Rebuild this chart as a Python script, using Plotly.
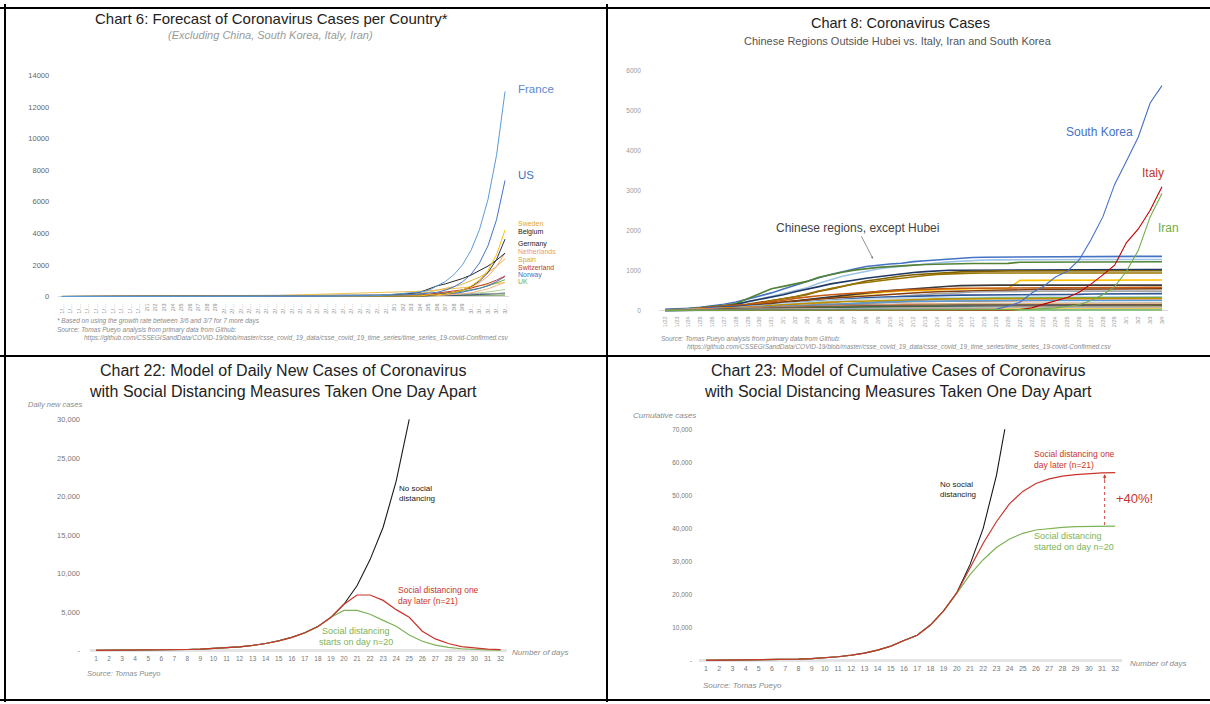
import plotly.graph_objects as go

W, H = 1210, 704
FONT = "Liberation Sans, Arial, sans-serif"


def px(x):
    return x / W


def py(y):
    return 1 - y / H


# ---------------- Chart 6 data (1/22 .. 3/14, forecast after 3/7) ----------------
DATES6 = ["1/22", "1/23", "1/24", "1/25", "1/26", "1/27", "1/28", "1/29", "1/30", "1/31",
          "2/1", "2/2", "2/3", "2/4", "2/5", "2/6", "2/7", "2/8", "2/9", "2/10",
          "2/11", "2/12", "2/13", "2/14", "2/15", "2/16", "2/17", "2/18", "2/19", "2/20",
          "2/21", "2/22", "2/23", "2/24", "2/25", "2/26", "2/27", "2/28", "2/29",
          "3/1", "3/2", "3/3", "3/4", "3/5", "3/6", "3/7", "3/8", "3/9", "3/10",
          "3/11", "3/12", "3/13", "3/14"]
DATES6_TEXT = (["1/…"] * 10 + ["2/1", "2/2", "2/3", "2/4", "2/5", "2/6", "2/7", "2/8", "2/9"]
               + ["2/…"] * 20 + ["3/1", "3/2", "3/3", "3/4", "3/5", "3/6", "3/7", "3/8", "3/9"]
               + ["3/…"] * 5)
Y6_TICKS = [0, 2000, 4000, 6000, 8000, 10000, 12000, 14000]
Y6_TEXT = ["0", "2000", "4000", "6000", "8000", "10000", "12000", "14000"]

FRANCE = ([0, 0, 2, 3, 3, 3, 4, 5, 5, 5]
          + [6, 6, 6, 6, 6, 6, 6, 11, 11, 11, 11, 11, 11, 11, 12, 12, 12, 12, 12, 12,
             12, 12, 12, 12, 14, 18, 38, 57, 100]
          + [130, 191, 204, 285, 377, 653, 949, 1379, 2004, 2912, 4231, 6148, 8933, 12980])
US = ([1, 1, 2, 2, 5, 5, 5, 5, 5, 6]
      + [8, 8, 11, 11, 11, 12, 12, 12, 12, 12, 13, 13, 13, 13, 13, 13, 13, 13, 13, 13,
         15, 15, 15, 51, 51, 57, 58, 60, 68]
      + [74, 98, 118, 149, 217, 262, 402, 610, 925, 1400, 2120, 3210, 4860, 7350])
GERMANY = ([0, 0, 0, 0, 0, 0, 4, 4, 4, 5]
           + [8, 10, 12, 12, 12, 12, 13, 13, 14, 14, 16, 16, 16, 16, 16, 16, 16, 16, 16, 16,
              16, 16, 16, 16, 17, 27, 46, 48, 79]
           + [130, 159, 196, 262, 482, 670, 799, 953, 1136, 1355, 1616, 1927, 2298, 2740])
SPAIN = ([0] * 10
         + [1] * 8 + [2] * 16 + [6, 13, 15, 32, 45]
         + [84, 120, 165, 222, 259, 400, 500, 625, 781, 977, 1221, 1526, 1907, 2384])
SWEDEN = ([0] * 9 + [1]
          + [1] * 25 + [2, 7, 7, 12]
          + [14, 15, 21, 35, 94, 101, 161, 257, 409, 652, 1039, 1657, 2641, 4210])
BELGIUM = ([0] * 10
           + [0, 0, 0] + [1] * 26
           + [2, 8, 13, 23, 50, 109, 169, 262, 406, 629, 975, 1512, 2343, 3632])
NETHERLANDS = ([0] * 10
               + [0] * 26 + [1, 1, 6]
               + [10, 18, 24, 38, 82, 128, 188, 276, 406, 596, 875, 1286, 1889, 2775])
SWITZERLAND = ([0] * 10
               + [0] * 24 + [1, 1, 8, 8, 18]
               + [27, 42, 56, 90, 114, 214, 268, 336, 420, 526, 659, 825, 1033, 1293])
NORWAY = ([0] * 10
          + [0] * 25 + [1, 1, 6, 15]
          + [19, 25, 32, 56, 87, 108, 147, 200, 272, 371, 505, 687, 935, 1273])
UK = ([0] * 9 + [2]
      + [2] * 6 + [3, 3, 3, 8, 8, 9] + [9] * 12 + [13, 13, 15, 20, 23]
      + [36, 40, 51, 85, 115, 163, 206, 260, 329, 416, 526, 665, 840, 1062])
JAPAN = ([2, 1, 2, 2, 4, 4, 7, 7, 11, 15]
         + [20, 20, 20, 22, 22, 25, 25, 25, 26, 26, 26, 28, 28, 29, 43, 59, 66, 74, 84, 94,
            105, 122, 147, 159, 170, 189, 214, 228, 241]
         + [256, 274, 293, 331, 360, 420, 461, 506, 555, 610, 669, 735, 807, 886])
SINGAPORE = ([0, 1, 3, 3, 4, 5, 7, 7, 10, 13]
             + [16, 18, 18, 24, 28, 28, 30, 33, 40, 45, 47, 50, 58, 67, 72, 75, 77, 81, 84, 84,
                85, 85, 89, 89, 91, 93, 93, 93, 102]
             + [106, 108, 110, 110, 117, 130, 138, 146, 155, 165, 175, 186, 197, 209])
AUSTRIA = ([0] * 10
           + [0] * 24 + [2, 2, 3, 3, 9]
           + [14, 18, 21, 29, 41, 55, 79, 113, 163, 234, 336, 482, 692, 900])
CANADA = ([0, 0, 0, 0, 1, 1, 2, 2, 2, 4]
          + [4, 4, 4, 4, 5, 5, 7, 7, 7, 7, 7, 7, 7, 7, 7, 7, 8, 8, 8, 8,
             8, 9, 9, 10, 11, 11, 13, 14, 20]
          + [24, 27, 33, 37, 49, 54, 64, 76, 90, 106, 126, 149, 176, 209])
AUSTRALIA = ([0, 0, 0, 0, 4, 5, 5, 6, 9, 9]
             + [12, 12, 12, 13, 13, 14, 15, 15, 15, 15, 15, 15, 15, 15, 15, 15, 15, 15, 15, 15,
                15, 15, 22, 22, 22, 23, 23, 25, 26]
             + [27, 30, 39, 52, 55, 60, 63, 66, 70, 74, 78, 82, 86, 91])
GREECE = ([0] * 10
          + [0] * 25 + [1, 3, 4, 4]
          + [7, 7, 7, 9, 31, 45, 66, 96, 135, 180, 230, 290, 360, 440])

# ---------------- Chart 8 data (1/22 .. 3/4) ----------------
DATES8 = DATES6[:43]
Y8_TICKS = [0, 1000, 2000, 3000, 4000, 5000, 6000]
Y8_TEXT = ["0", "1000", "2000", "3000", "4000", "5000", "6000"]

GUANGDONG = ([26, 32, 53, 78, 111, 151, 207, 277, 354, 436]
             + [535, 632, 725, 813, 895, 970, 1034, 1095, 1131, 1159, 1177, 1219, 1241, 1261, 1294,
                1316, 1322, 1328, 1331, 1332, 1333, 1339, 1342, 1345, 1347, 1347, 1347, 1348, 1349]
             + [1349, 1350, 1350, 1350])
HENAN = ([5, 5, 9, 32, 83, 128, 168, 206, 278, 352]
         + [422, 493, 566, 675, 764, 851, 914, 981, 1033, 1073, 1105, 1135, 1169, 1184, 1212,
            1231, 1246, 1257, 1262, 1265, 1267, 1270, 1271, 1271, 1271, 1271, 1272, 1272, 1272]
         + [1272, 1272, 1272, 1272])
ZHEJIANG = ([10, 27, 43, 62, 104, 128, 173, 296, 428, 538]
            + [599, 661, 724, 829, 895, 954, 1006, 1048, 1075, 1092, 1117, 1131, 1145, 1155, 1162,
               1167, 1171, 1172, 1174, 1175, 1203, 1205, 1205, 1205, 1205, 1205, 1205, 1205, 1205]
            + [1206, 1213, 1213, 1215])
HUNAN = ([4, 9, 24, 43, 69, 100, 143, 221, 277, 332]
         + [389, 463, 521, 593, 661, 711, 772, 803, 838, 879, 912, 946, 968, 988, 1001,
            1004, 1006, 1007, 1008, 1010, 1011, 1013, 1016, 1016, 1016, 1016, 1017, 1017, 1018]
         + [1018, 1018, 1018, 1018])
ANHUI = ([1, 9, 15, 39, 60, 70, 106, 152, 200, 237]
         + [297, 340, 408, 480, 530, 591, 665, 733, 779, 830, 860, 889, 910, 934, 950,
            962, 973, 982, 986, 987, 988, 989, 989, 989, 989, 989, 989, 990, 990]
         + [990, 990, 990, 990])
JIANGXI = ([2, 7, 18, 18, 36, 72, 109, 109, 162, 240]
           + [286, 333, 391, 476, 548, 600, 661, 698, 740, 771, 804, 844, 872, 900, 913,
              925, 930, 933, 934, 934, 934, 934, 934, 934, 934, 934, 934, 935, 935]
           + [935, 935, 935, 935])
SHANDONG = ([2, 6, 15, 27, 46, 75, 95, 130, 158, 184]
            + [206, 230, 259, 275, 307, 347, 386, 416, 444, 466, 487, 497, 509, 523, 532,
               537, 541, 543, 544, 546, 749, 750, 754, 755, 756, 756, 756, 756, 756]
            + [758, 758, 758, 758])
JIANGSU = ([1, 5, 9, 18, 33, 47, 70, 99, 129, 168]
           + [202, 236, 271, 308, 341, 373, 408, 439, 468, 492, 515, 543, 570, 593, 604,
              617, 626, 629, 631, 631] + [631] * 9
           + [631, 631, 631, 631])
CHONGQING = ([6, 9, 27, 57, 75, 110, 132, 147, 182, 211]
             + [247, 300, 337, 366, 389, 411, 426, 446, 468, 486, 505, 518, 529, 537, 544,
                551, 553, 555, 560, 567, 572, 573, 575, 576, 576, 576, 576, 576, 576]
             + [576, 576, 576, 576])
SICHUAN = ([5, 8, 15, 28, 44, 69, 90, 108, 142, 177]
           + [207, 231, 254, 282, 301, 321, 344, 364, 386, 405, 417, 436, 451, 463, 470,
              481, 495, 508, 514, 520, 525, 526, 526, 527, 529, 531, 534, 538, 538]
           + [538, 538, 538, 539])
HEILONGJIANG = ([0, 2, 4, 9, 15, 21, 33, 38, 44, 59]
                + [80, 95, 121, 155, 190, 227, 277, 295, 307, 331, 360, 378, 395, 419, 425,
                   445, 457, 464, 470, 476, 479, 479, 480, 480, 480, 480, 480, 480, 480]
                + [480, 480, 480, 481])
BEIJING = ([14, 22, 36, 41, 68, 80, 91, 111, 114, 139]
           + [168, 191, 212, 228, 253, 274, 297, 315, 326, 337, 342, 352, 366, 372, 375,
              380, 381, 387, 393, 395, 396, 399, 399, 399, 400, 400, 410, 410, 411]
           + [413, 414, 414, 418])
SHANGHAI = ([9, 16, 20, 33, 40, 53, 66, 96, 112, 135]
            + [169, 182, 203, 219, 243, 257, 277, 286, 293, 299, 303, 311, 315, 318, 326,
               328, 331, 333, 333, 333, 334, 334, 335, 335, 335, 336, 337, 337, 337]
            + [337, 337, 338, 338])
HEBEI = ([1, 1, 2, 8, 13, 18, 33, 48, 65, 82]
         + [96, 104, 113, 126, 135, 157, 172, 195, 206, 218, 239, 251, 265, 283, 291,
            300, 301, 302, 306, 307, 308, 309, 311, 311, 311, 312, 317, 318, 318]
         + [318, 318, 318, 318])
FUJIAN = ([1, 5, 10, 18, 35, 59, 80, 84, 101, 120]
          + [144, 159, 179, 194, 205, 215, 224, 239, 250, 261, 267, 272, 279, 281, 285,
             287, 290, 292, 293, 293, 293, 293, 293, 293, 294, 294, 296, 296, 296]
          + [296, 296, 296, 296])
GUANGXI = ([2, 5, 23, 23, 36, 46, 51, 58, 78, 87]
           + [100, 111, 127, 139, 150, 168, 172, 183, 195, 210, 215, 222, 222, 226, 235,
              237, 238, 242, 244, 245, 246, 249, 249, 251, 252, 252, 252, 252, 252]
           + [252, 252, 252, 252])
SHAANXI = ([0, 3, 5, 15, 22, 35, 46, 56, 63, 87]
           + [101, 116, 128, 142, 165, 173, 184, 195, 208, 213, 219, 225, 229, 230, 232,
              236, 240, 240, 242, 245] + [245] * 9
           + [245, 245, 245, 245])
YUNNAN = ([1, 2, 5, 11, 16, 26, 44, 55, 70, 83]
          + [93, 105, 117, 122, 128, 133, 138, 140, 141, 149, 154, 155, 162, 168, 169,
             171, 172, 172, 172, 174] + [174] * 9
          + [174, 174, 174, 174])
HAINAN = ([4, 5, 8, 19, 22, 33, 40, 43, 46, 52]
          + [62, 64, 72, 80, 99, 106, 117, 124, 131, 138, 144, 157, 157, 159, 162,
             162, 163, 163, 168, 168] + [168] * 9
          + [168, 168, 168, 168])
GUIZHOU = ([1, 3, 3, 4, 5, 7, 9, 9, 12, 29]
           + [29, 38, 46, 58, 64, 71, 81, 89, 99, 109, 127, 133, 135, 140, 143,
              144, 146, 146, 146, 146] + [146] * 9
           + [146, 146, 146, 146])
TIANJIN = ([4, 4, 8, 10, 14, 23, 24, 27, 31, 32]
           + [41, 48, 60, 67, 69, 78, 81, 88, 91, 95, 106, 112, 119, 120, 122,
              124, 125, 128, 130, 131, 133, 135, 135, 135, 135, 135, 136, 136, 136]
           + [136, 136, 136, 136])
SHANXI = ([1, 1, 1, 9, 13, 27, 33, 35, 47, 56]
          + [66, 74, 81, 90, 96, 104, 115, 119, 122, 124, 126, 126, 127, 128, 129,
             130, 131, 131, 132, 132, 132, 132, 132, 132, 133, 133, 133, 133, 133]
          + [133, 133, 133, 133])
LIAONING = ([2, 3, 4, 17, 21, 27, 34, 39, 41, 48]
            + [64, 70, 74, 81, 89, 94, 99, 105, 107, 108, 111, 116, 117, 119, 119] + [121] * 14
            + [122, 122, 125, 125])
HONGKONG = ([0, 2, 2, 5, 8, 8, 8, 10, 10, 13]
            + [14, 15, 15, 18, 21, 24, 26, 26, 36, 42, 49, 50, 53, 56, 56,
               57, 60, 62, 63, 68, 68, 70, 74, 81, 85, 91, 93, 94, 95]
            + [96, 100, 100, 105])
JILIN = ([0, 1, 3, 4, 4, 6, 8, 9, 14, 14]
         + [17, 23, 31, 42, 54, 59, 65, 69, 78, 80, 81, 83, 84, 86, 88,
            89, 89, 89, 90, 91, 91, 91, 91, 93, 93, 93, 93, 93, 93]
         + [93, 93, 93, 93])
GANSU = ([0, 2, 2, 4, 7, 14, 19, 24, 26, 29]
         + [40, 51, 55, 57, 62, 62, 67, 79, 83, 83, 86, 87, 90, 90, 90, 90] + [91] * 13
         + [91, 91, 91, 102])
XINJIANG = ([0, 2, 2, 3, 4, 5, 10, 13, 14, 17]
            + [18, 21, 24, 29, 32, 36, 39, 42, 45, 49, 55, 59, 63, 65, 70,
               71, 73, 76, 76, 76] + [76] * 9
            + [76, 76, 76, 76])
INNER_MONGOLIA = ([0, 0, 1, 7, 7, 11, 15, 16, 19, 20]
                  + [23, 27, 34, 35, 42, 46, 50, 52, 54, 58, 58, 60, 61, 65, 68,
                     70, 72, 73, 75, 75] + [75] * 9
                  + [75, 75, 75, 75])
NINGXIA = ([1, 1, 2, 3, 4, 7, 11, 12, 17, 21]
           + [26, 28, 31, 34, 34, 40, 43, 45, 45, 49, 53, 58, 64, 67, 70,
              70, 70, 70, 71, 71, 71, 71, 71, 71, 71, 71, 72, 73, 73]
           + [74, 74, 75, 75])
TAIWAN = ([1, 1, 3, 3, 4, 5, 8, 8, 9, 10]
          + [10, 10, 10, 11, 11, 16, 16, 17, 18, 18, 18, 18, 18, 18, 18,
             20, 22, 22, 23, 24, 26, 26, 28, 30, 31, 32, 32, 34, 39]
          + [40, 41, 42, 42])
QINGHAI = ([0, 0, 0, 1, 1, 6, 6, 6, 8, 9]
           + [11, 13, 15, 17, 18] + [18] * 24
           + [18, 18, 18, 18])
MACAU = ([1, 2, 2, 2, 5, 6, 7, 7, 7, 7]
         + [7, 8, 8, 10] + [10] * 25
         + [10, 10, 10, 10])

SOUTH_KOREA = ([1, 1, 2, 2, 3, 4, 4, 4, 4, 11]
               + [12, 15, 15, 16, 19, 23, 24, 24, 25, 27, 28, 28, 28, 28, 28,
                  29, 30, 31, 31, 104, 204, 433, 602, 833, 977, 1261, 1766, 2337, 3150]
               + [3736, 4335, 5186, 5621])
ITALY = ([0] * 9 + [2]
         + [2] * 6 + [3] * 14 + [20, 62, 155, 229, 322, 453, 655, 888, 1128]
         + [1694, 2036, 2502, 3089])
IRAN = ([0] * 10
        + [0] * 18 + [2, 5, 18, 28, 43, 61, 95, 139, 245, 388, 593]
        + [978, 1501, 2336, 2922])

# ---------------- Chart 22 / 23 data (days 1..32) ----------------
DAYS = list(range(1, 33))
DAYS_TEXT = [str(d) for d in DAYS]
Y22_TICKS = [0, 5000, 10000, 15000, 20000, 25000, 30000]
Y22_TEXT = ["-", "5,000", "10,000", "15,000", "20,000", "25,000", "30,000"]
Y23_TICKS = [0, 10000, 20000, 30000, 40000, 50000, 60000, 70000]
Y23_TEXT = ["-", "10,000", "20,000", "30,000", "40,000", "50,000", "60,000", "70,000"]

DAILY_NO_SD = [10, 15, 20, 30, 45, 60, 85, 120, 170, 240, 330, 460, 650, 900, 1250, 1700,
               2300, 3100, 4300, 6000, 8400, 11800, 16000, 22000, 30000]
DAILY_SD21 = [10, 15, 20, 30, 45, 60, 85, 120, 170, 240, 330, 460, 650, 900, 1250, 1700,
              2300, 3100, 4300, 6000, 7200, 7200, 6500, 5300, 4300, 2500, 1500, 900, 500,
              300, 180, 100]
DAILY_SD20 = [10, 15, 20, 30, 45, 60, 85, 120, 170, 240, 330, 460, 650, 900, 1250, 1700,
              2300, 3100, 4300, 5200, 5200, 4700, 3900, 3150, 2000, 1200, 700, 400, 220,
              120, 60, 30]

CUM_NO_SD = [0, 20, 40, 70, 110, 170, 250, 370, 540, 780, 1100, 1560, 2200, 3100, 4300,
             6000, 7600, 10700, 15000, 20500, 29000, 40000, 56000, 78000]
CUM_SD21 = [0, 20, 40, 70, 110, 170, 250, 370, 540, 780, 1100, 1560, 2200, 3100, 4300,
            6000, 7600, 10700, 15000, 20500, 28000, 35500, 42000, 47500, 51200, 53600,
            55000, 55800, 56300, 56600, 56800, 56900]
CUM_SD20 = [0, 20, 40, 70, 110, 170, 250, 370, 540, 780, 1100, 1560, 2200, 3100, 4300,
            6000, 7600, 10700, 15000, 20300, 26000, 30500, 34200, 36800, 38500, 39500,
            40000, 40300, 40500, 40600, 40650, 40700]

# ---------------- Figure ----------------
fig = go.Figure()

chart6_series = [
    ("Greece", GREECE, "#A9D18E"), ("Australia", AUSTRALIA, "#548235"),
    ("Canada", CANADA, "#264478"), ("Singapore", SINGAPORE, "#A5A5A5"),
    ("Austria", AUSTRIA, "#F4B183"), ("Japan", JAPAN, "#F2C14E"),
    ("UK", UK, "#70AD47"), ("Norway", NORWAY, "#4472C4"),
    ("Switzerland", SWITZERLAND, "#C0392B"), ("Spain", SPAIN, "#E7B446"),
    ("Netherlands", NETHERLANDS, "#F4A46A"), ("Germany", GERMANY, "#262626"),
    ("Belgium", BELGIUM, "#1F3864"), ("Sweden", SWEDEN, "#FFC000"),
    ("US", US, "#4472C4"), ("France", FRANCE, "#5B9BD5"),
]
for name, vals, col in chart6_series:
    fig.add_trace(go.Scatter(x=DATES6, y=vals, mode="lines", name=name,
                             line=dict(color=col, width=1), xaxis="x", yaxis="y",
                             showlegend=False, hoverinfo="skip"))

chart8_series = [
    ("Guangdong", GUANGDONG, "#4472C4"), ("Henan", HENAN, "#9DC3E6"),
    ("Zhejiang", ZHEJIANG, "#548235"), ("Hunan", HUNAN, "#1F3864"),
    ("Anhui", ANHUI, "#7F6000"), ("Jiangxi", JIANGXI, "#997300"),
    ("Shandong", SHANDONG, "#FFC000"), ("Jiangsu", JIANGSU, "#3A3A3A"),
    ("Chongqing", CHONGQING, "#C55A11"), ("Sichuan", SICHUAN, "#843C0C"),
    ("Heilongjiang", HEILONGJIANG, "#A5A5A5"), ("Beijing", BEIJING, "#2F5597"),
    ("Shanghai", SHANGHAI, "#BDD7EE"), ("Hebei", HEBEI, "#70AD47"),
    ("Fujian", FUJIAN, "#BF9000"), ("Guangxi", GUANGXI, "#ED7D31"),
    ("Shaanxi", SHAANXI, "#5B9BD5"), ("Yunnan", YUNNAN, "#7F7F7F"),
    ("Hainan", HAINAN, "#F4B183"), ("Guizhou", GUIZHOU, "#A9D18E"),
    ("Tianjin", TIANJIN, "#264478"), ("Shanxi", SHANXI, "#9E480E"),
    ("Liaoning", LIAONING, "#636363"), ("Hong Kong", HONGKONG, "#997300"),
    ("Jilin", JILIN, "#255E91"), ("Gansu", GANSU, "#43682B"),
    ("Xinjiang", XINJIANG, "#698ED0"), ("Inner Mongolia", INNER_MONGOLIA, "#F1975A"),
    ("Ningxia", NINGXIA, "#B7B7B7"), ("Taiwan", TAIWAN, "#FFCD33"),
    ("Qinghai", QINGHAI, "#7CAFDD"), ("Macau", MACAU, "#8CC168"),
]
for name, vals, col in chart8_series:
    fig.add_trace(go.Scatter(x=DATES8, y=vals, mode="lines", name=name,
                             line=dict(color=col, width=1.6), xaxis="x2", yaxis="y2",
                             showlegend=False, hoverinfo="skip"))
for name, vals, col in [("South Korea", SOUTH_KOREA, "#4472C4"),
                        ("Italy", ITALY, "#C00000"), ("Iran", IRAN, "#70AD47")]:
    fig.add_trace(go.Scatter(x=DATES8, y=vals, mode="lines", name=name,
                             line=dict(color=col, width=1.1), xaxis="x2", yaxis="y2",
                             showlegend=False, hoverinfo="skip"))

BLACK, RED, GREEN = "#1a1a1a", "#C9352B", "#7DB356"
fig.add_trace(go.Scatter(x=DAYS[:len(DAILY_NO_SD)], y=DAILY_NO_SD, mode="lines",
                         line=dict(color=BLACK, width=1.1), xaxis="x3", yaxis="y3",
                         showlegend=False, hoverinfo="skip"))
fig.add_trace(go.Scatter(x=DAYS, y=DAILY_SD20, mode="lines",
                         line=dict(color=GREEN, width=1.2), xaxis="x3", yaxis="y3",
                         showlegend=False, hoverinfo="skip"))
fig.add_trace(go.Scatter(x=DAYS, y=DAILY_SD21, mode="lines",
                         line=dict(color=RED, width=1.2), xaxis="x3", yaxis="y3",
                         showlegend=False, hoverinfo="skip"))

fig.add_trace(go.Scatter(x=DAYS[:len(CUM_NO_SD)], y=CUM_NO_SD, mode="lines",
                         line=dict(color=BLACK, width=1.1), xaxis="x4", yaxis="y4",
                         showlegend=False, hoverinfo="skip"))
fig.add_trace(go.Scatter(x=DAYS, y=CUM_SD20, mode="lines",
                         line=dict(color=GREEN, width=1.2), xaxis="x4", yaxis="y4",
                         showlegend=False, hoverinfo="skip"))
fig.add_trace(go.Scatter(x=DAYS, y=CUM_SD21, mode="lines",
                         line=dict(color=RED, width=1.2), xaxis="x4", yaxis="y4",
                         showlegend=False, hoverinfo="skip"))

NOAX = dict(showgrid=False, showline=False, fixedrange=True)
TRANSP = "rgba(0,0,0,0)"

fig.update_layout(
    width=W, height=H, autosize=False,
    margin=dict(l=0, r=0, t=0, b=0),
    paper_bgcolor="white", plot_bgcolor="white",
    font=dict(family=FONT),
    xaxis=dict(NOAX, domain=[px(57.7), px(509.3)], anchor="y", type="category",
               categoryorder="array", categoryarray=DATES6, range=[-0.5, 52.5],
               tickvals=DATES6, ticktext=DATES6_TEXT, tickangle=-90,
               tickfont=dict(size=5.5, color="#8c8c8c"), ticks="", zeroline=False),
    yaxis=dict(NOAX, domain=[py(300), py(72)], anchor="x", range=[-314, 14000],
               tickvals=Y6_TICKS, ticktext=Y6_TEXT, tickfont=dict(size=7.5, color="#666"),
               ticks="outside", ticklen=6, tickcolor=TRANSP,
               zeroline=True, zerolinecolor="#d9d9d9", zerolinewidth=1),
    xaxis2=dict(NOAX, domain=[px(659.1), px(1167.9)], anchor="y2", type="category",
                categoryorder="array", categoryarray=DATES8, range=[-0.5, 42.5],
                tickvals=DATES8, ticktext=DATES8, tickangle=-90,
                tickfont=dict(size=5.5, color="#9a9a9a"), ticks="", zeroline=False),
    yaxis2=dict(NOAX, domain=[py(313), py(67)], anchor="x2", range=[-100, 6000],
                tickvals=Y8_TICKS, ticktext=Y8_TEXT, tickfont=dict(size=6.5, color="#9a9a9a"),
                ticks="outside", ticklen=16, tickcolor=TRANSP,
                zeroline=True, zerolinecolor="#d9d9d9", zerolinewidth=1),
    xaxis3=dict(NOAX, domain=[px(89.5), px(507.1)], anchor="y3", range=[0.5, 32.5],
                tickvals=DAYS, ticktext=DAYS_TEXT, tickfont=dict(size=6.5, color="#777"),
                ticks="", zeroline=False),
    yaxis3=dict(NOAX, domain=[py(655), py(418)], anchor="x3", range=[-386, 30130],
                tickvals=Y22_TICKS, ticktext=Y22_TEXT, tickfont=dict(size=7.5, color="#777"),
                ticks="outside", ticklen=7, tickcolor=TRANSP,
                zeroline=True, zerolinecolor="#e4e4e4", zerolinewidth=2.5),
    xaxis4=dict(NOAX, domain=[px(699.4), px(1121.8)], anchor="y4", range=[0.5, 32.5],
                tickvals=DAYS, ticktext=DAYS_TEXT, tickfont=dict(size=7, color="#777"),
                ticks="", zeroline=False),
    yaxis4=dict(NOAX, domain=[py(665), py(429)], anchor="x4", range=[-900, 70000],
                tickvals=Y23_TICKS, ticktext=Y23_TEXT, tickfont=dict(size=6.5, color="#777"),
                ticks="outside", ticklen=5, tickcolor=TRANSP,
                zeroline=True, zerolinecolor="#e4e4e4", zerolinewidth=2.5),
)


def txt(x, y, s, size, color, xanchor="left", italic=False):
    if italic:
        s = "<i>" + s + "</i>"
    return dict(xref="paper", yref="paper", x=px(x), y=py(y), text=s, showarrow=False,
                xanchor=xanchor, yanchor="middle", borderpad=0,
                font=dict(family=FONT, size=size, color=color))


ann = []
# Chart 6
ann.append(txt(271, 15, "Chart 6: Forecast of Coronavirus Cases per Country*", 15, "#222", "center"))
ann.append(txt(270, 31, "(Excluding China, South Korea, Italy, Iran)", 11, "#9a9a9a", "center", True))
ann.append(txt(517, 86, "France", 11.5, "#5B87D0"))
ann.append(txt(517, 172, "US", 11.5, "#4472C4"))
for label, yy, col in [("Sweden", 221, "#E0A82E"), ("Belgium", 230, "#222"),
                       ("Germany", 242, "#222"), ("Netherlands", 250, "#F29B62"),
                       ("Spain", 258, "#D9A441"), ("Switzerland", 266, "#C0392B"),
                       ("Norway", 273, "#4472C4"), ("UK", 280, "#70AD47")]:
    ann.append(txt(517, yy, label, 7, col))
ann.append(txt(56, 320, "* Based on using the growth rate between 3/6 and 3/7 for 7 more days", 6.5, "#8a8a8a", italic=True))
ann.append(txt(56, 329, "Source: Tomas Pueyo analysis from primary data from Github:", 6.5, "#8a8a8a", italic=True))
ann.append(txt(83, 337, "https://github.com/CSSEGISandData/COVID-19/blob/master/csse_covid_19_data/csse_covid_19_time_series/time_series_19-covid-Confirmed.csv", 6.5, "#8a8a8a", italic=True))

# Chart 8
ann.append(txt(900, 19, "Chart 8: Coronavirus Cases", 14.5, "#222", "center"))
ann.append(txt(898, 37, "Chinese Regions Outside Hubei vs. Italy, Iran and South Korea", 11, "#555", "center"))
ann.append(txt(1065, 129, "South Korea", 12, "#4472C4"))
ann.append(txt(1141, 170, "Italy", 12, "#C0392B"))
ann.append(txt(1157, 226, "Iran", 12, "#70AD47"))
ann.append(dict(xref="paper", yref="paper", x=px(873), y=py(257), ax=-16, ay=-31,
                text="Chinese regions, except Hubei", showarrow=True, arrowhead=2,
                arrowsize=0.6, arrowwidth=0.8, arrowcolor="#777", standoff=0,
                font=dict(family=FONT, size=12, color="#444")))
ann.append(txt(660, 338, "Source: Tomas Pueyo analysis from primary data from Github:", 6.5, "#8a8a8a", italic=True))
ann.append(txt(686, 346, "https://github.com/CSSEGISandData/COVID-19/blob/master/csse_covid_19_data/csse_covid_19_time_series/time_series_19-covid-Confirmed.csv", 6.5, "#8a8a8a", italic=True))

# Chart 22
ann.append(txt(283, 370, "Chart 22: Model of Daily New Cases of Coronavirus", 16, "#222", "center"))
ann.append(txt(283, 391, "with Social Distancing Measures Taken One Day Apart", 16, "#222", "center"))
ann.append(txt(27, 404, "Daily new cases", 7.5, "#8a8a8a", italic=True))
ann.append(txt(398, 489, "No social", 8, "#222"))
ann.append(txt(398, 499, "distancing", 8, "#222"))
ann.append(txt(397, 591, "Social distancing one", 8.5, RED))
ann.append(txt(397, 602, "day later (n=21)", 8.5, RED))
ann.append(txt(356, 632, "Social distancing", 9, GREEN, "center"))
ann.append(txt(356, 643, "starts on day n=20", 9, GREEN, "center"))
ann.append(txt(511, 654, "Number of days", 8, "#8a8a8a", italic=True))
ann.append(txt(86, 675, "Source: Tomas Pueyo", 7.5, "#8a8a8a", italic=True))

# Chart 23
ann.append(txt(898, 370, "Chart 23: Model of Cumulative Cases of Coronavirus", 16, "#222", "center"))
ann.append(txt(898, 391, "with Social Distancing Measures Taken One Day Apart", 16, "#222", "center"))
ann.append(txt(632, 415, "Cumulative cases", 8, "#8a8a8a", italic=True))
ann.append(txt(939, 485, "No social", 8, "#222"))
ann.append(txt(939, 495, "distancing", 8, "#222"))
ann.append(txt(1033, 454, "Social distancing one", 8.5, RED))
ann.append(txt(1033, 465, "day later (n=21)", 8.5, RED))
ann.append(txt(1115, 499, "+40%!", 13, RED))
ann.append(txt(1033, 537, "Social distancing", 9, GREEN))
ann.append(txt(1033, 548, "started on day n=20", 9, GREEN))
ann.append(txt(1129, 665, "Number of days", 8, "#8a8a8a", italic=True))
ann.append(txt(702, 687, "Source: Tomas Pueyo", 8, "#8a8a8a", italic=True))
ann.append(dict(xref="x4", yref="y4", x=31.2, y=56400, ax=0, ay=7, text="",
                showarrow=True, arrowhead=2, arrowsize=0.8, arrowwidth=0.9,
                arrowcolor=RED, standoff=0))

shapes = [
    dict(type="line", xref="x4", yref="y4", x0=31.2, x1=31.2, y0=41000, y1=55300,
         line=dict(color=RED, width=0.9, dash="dot")),
]
# table borders
for x0, y0, x1, y1 in [(5, 0, 5, 704), (607, 0, 607, 704),
                       (0, 4, 1210, 4), (0, 355, 1210, 355), (0, 702, 1210, 702)]:
    shapes.append(dict(type="line", xref="paper", yref="paper", x0=px(x0), x1=px(x1),
                       y0=py(y0), y1=py(y1), line=dict(color="black", width=2)))

fig.update_layout(annotations=ann, shapes=shapes)

fig.write_html("out.html", config={"displayModeBar": False},
               post_script="document.body.style.margin='0';")
